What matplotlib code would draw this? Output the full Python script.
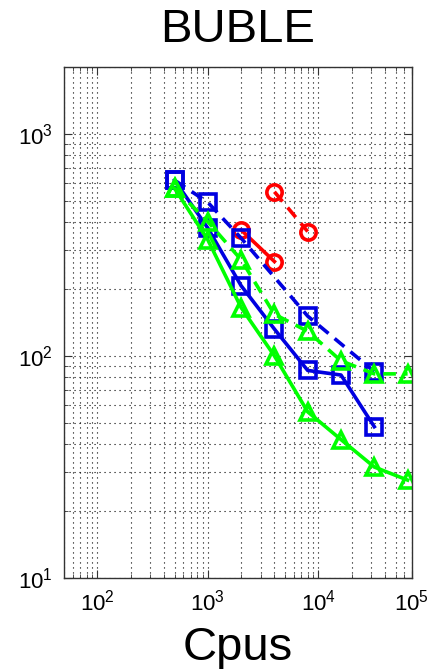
import matplotlib
matplotlib.use("Agg")
import matplotlib.pyplot as plt
from matplotlib.ticker import LogLocator, NullFormatter

plt.rcParams['font.family'] = ['Liberation Sans', 'DejaVu Sans']
plt.rcParams['mathtext.fontset'] = 'custom'
plt.rcParams['mathtext.rm'] = 'Liberation Sans'
plt.rcParams['mathtext.it'] = 'Liberation Sans'

# Data
red_dash_x = [4000, 8000]
red_dash_y = [548, 363]
red_solid_x = [2000, 4000]
red_solid_y = [369, 266]

blue_dash_x = [500, 1000, 2000, 8000, 32000]
blue_dash_y = [618, 491, 339, 151, 85]
blue_solid_x = [500, 1000, 2000, 4000, 8000, 16000, 32000]
blue_solid_y = [618, 376, 207, 132, 86, 82, 48]

green_dash_x = [500, 1000, 2000, 4000, 8000, 16000, 32000, 64000]
green_dash_y = [568, 402, 271, 154, 129, 95, 83, 83]
green_solid_x = [500, 1000, 2000, 4000, 8000, 16000, 32000, 64000]
green_solid_y = [568, 333, 165, 100, 56, 42, 31.6, 27.6]

x_limits = (50, 7e4)
y_limits = (10, 2000)
x_tick_vals = [1e2, 1e3, 1e4, 7e4]
x_tick_labels = ['$10^2$', '$10^3$', '$10^4$', '$10^5$']
y_tick_vals = [1e1, 1e2, 1e3]
y_tick_labels = ['$10^1$', '$10^2$', '$10^3$']

RED = '#ff0000'
BLUE = '#0000e0'
GREEN = '#00ff00'

fig = plt.figure(figsize=(4.41, 6.69), dpi=100)
ax = fig.add_axes([0.145, 0.136, 0.789, 0.764])
ax.set_xscale('log')
ax.set_yscale('log')

lw = 2.6
ms = 11
mew = 2.6
dash = (3.5, 2.2)

def plot(x, y, color, marker, dashed):
    kw = dict(color=color, lw=lw, marker=marker, ms=ms, mew=mew,
              mfc='none', mec=color)
    if dashed:
        ax.plot(x, y, linestyle=(0, dash), **kw)
    else:
        ax.plot(x, y, linestyle='-', **kw)

plot(red_dash_x, red_dash_y, RED, 'o', True)
plot(red_solid_x, red_solid_y, RED, 'o', False)
plot(blue_dash_x, blue_dash_y, BLUE, 's', True)
plot(blue_solid_x, blue_solid_y, BLUE, 's', False)
plot(green_dash_x, green_dash_y, GREEN, '^', True)
plot(green_solid_x, green_solid_y, GREEN, '^', False)

ax.set_xlim(*x_limits)
ax.set_ylim(*y_limits)
ax.set_xticks(x_tick_vals)
ax.set_xticklabels(x_tick_labels)
ax.set_yticks(y_tick_vals)
ax.set_yticklabels(y_tick_labels)
ax.xaxis.set_minor_locator(LogLocator(base=10, subs=range(2, 10), numticks=20))
ax.yaxis.set_minor_locator(LogLocator(base=10, subs=range(2, 10), numticks=20))
ax.xaxis.set_minor_formatter(NullFormatter())
ax.yaxis.set_minor_formatter(NullFormatter())

ax.grid(True, which='major', linestyle=(0, (1, 3.5)), color='black', lw=0.8)
ax.grid(True, which='minor', linestyle=(0, (1, 3.5)), color='black', lw=0.8)
ax.tick_params(which='both', direction='in', top=True, right=True, color='#333333')
ax.tick_params(which='major', length=6, labelsize=16, pad=8)
ax.tick_params(which='minor', length=3)
for s in ax.spines.values():
    s.set_color('#333333')
    s.set_linewidth(1.0)

ax.set_title('BUBLE', fontsize=34, pad=18)
ax.set_xlabel('Cpus', fontsize=34, labelpad=8)

fig.savefig('out.png', dpi=100)
